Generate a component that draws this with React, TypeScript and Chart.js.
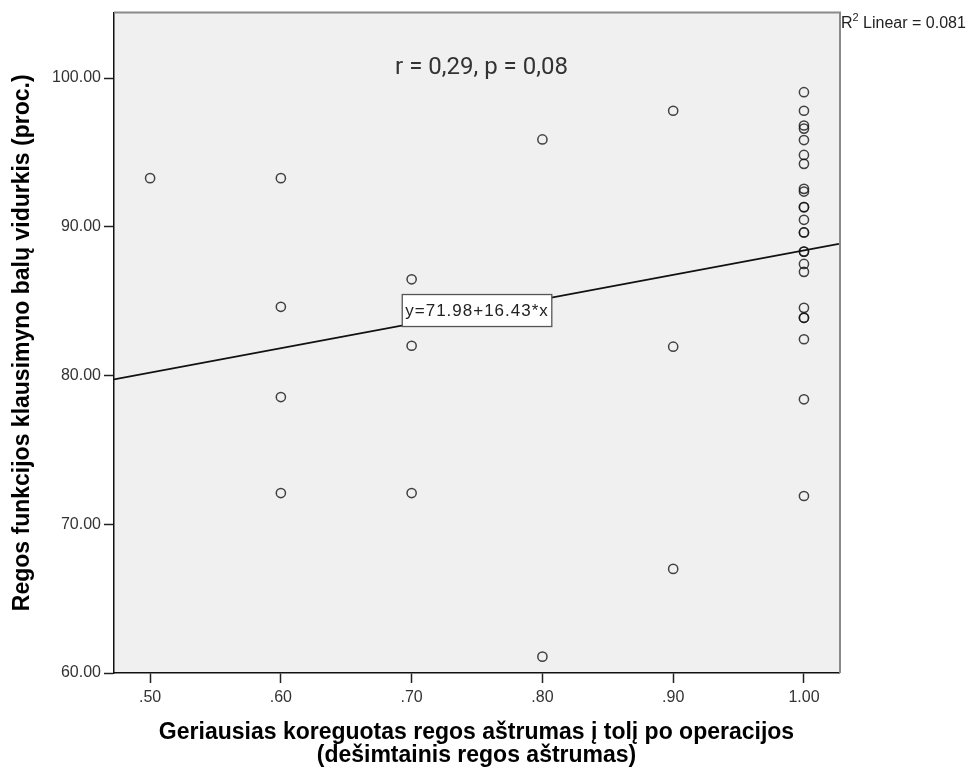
import React, { useEffect, useRef } from "react";
import { Chart, registerables } from "chart.js";

Chart.register(...registerables);

// ---- data ----
const acuityLevels = [0.5, 0.6, 0.7, 0.8, 0.9, 1.0];
const scoresAt050 = [93.27];
const scoresAt060 = [93.27, 84.62, 78.55, 72.1];
const scoresAt070 = [86.47, 82.0, 72.1];
const scoresAt080 = [95.87, 61.1];
const scoresAt090 = [97.8, 81.94, 67.0];
const scoresAt100 = [
  99.05, 97.8, 96.81, 96.6, 95.83, 94.83, 94.23, 92.55, 92.37, 91.32, 91.32,
  90.47, 89.62, 89.62, 88.33, 88.33, 87.5, 86.97, 84.55, 83.88, 83.88, 82.44,
  78.4, 71.9,
];
const scoreGroups = [scoresAt050, scoresAt060, scoresAt070, scoresAt080, scoresAt090, scoresAt100];

const xTicks = [0.5, 0.6, 0.7, 0.8, 0.9, 1.0];
const yTicks = [60, 70, 80, 90, 100];
const xRange = [0.4724, 1.0268];
const yRange = [60, 104.4];

const fitIntercept = 71.98;
const fitSlope = 16.43;
const fitLabel = "y=71.98+16.43*x";
const fitLabelAt = 0.75;
const rSquaredText = " Linear = 0.081";
const corrText = "r = 0,29, p = 0,08";

const yTitle = "Regos funkcijos klausimyno balų vidurkis (proc.)";
const xTitle = [
  "Geriausias koreguotas regos aštrumas į tolį po operacijos",
  "(dešimtainis regos aštrumas)",
];

const FONT = "'Liberation Sans', Arial, sans-serif";

const decorPlugin = {
  id: "decor",
  beforeDraw(chart: any) {
    const { ctx, chartArea } = chart;
    ctx.save();
    ctx.fillStyle = "#f0f0f0";
    ctx.fillRect(chartArea.left, chartArea.top, chartArea.right - chartArea.left, chartArea.bottom - chartArea.top);
    ctx.restore();
  },
  afterDatasetsDraw(chart: any) {
    const { ctx, scales } = chart;
    const xs = scales.x;
    const ys = scales.y;
    ctx.save();
    ctx.font = `17px ${FONT}`;
    (ctx as any).letterSpacing = "1px";
    const tw = ctx.measureText(fitLabel).width;
    const cx = xs.getPixelForValue(fitLabelAt);
    const cy = ys.getPixelForValue(fitIntercept + fitSlope * fitLabelAt);
    const bw = tw + 6;
    const bh = 32;
    ctx.fillStyle = "#ffffff";
    ctx.fillRect(cx - bw / 2, cy - bh / 2 - 1, bw, bh);
    ctx.strokeStyle = "#555";
    ctx.lineWidth = 1.3;
    ctx.strokeRect(cx - bw / 2, cy - bh / 2 - 1, bw, bh);
    ctx.fillStyle = "#222";
    ctx.textAlign = "left";
    ctx.textBaseline = "middle";
    ctx.fillText(fitLabel, cx - bw / 2 + 3, cy);
    (ctx as any).letterSpacing = "0px";
    ctx.restore();
  },
  afterDraw(chart: any) {
    const { ctx, chartArea } = chart;
    ctx.save();
    ctx.strokeStyle = "#8a8a8a";
    ctx.lineWidth = 2;
    ctx.beginPath();
    ctx.moveTo(chartArea.left, chartArea.top);
    ctx.lineTo(chartArea.right + 1, chartArea.top);
    ctx.lineTo(chartArea.right + 1, chartArea.bottom);
    ctx.stroke();
    ctx.fillStyle = "#333";
    ctx.font = `24px Roboto, ${FONT}`;
    ctx.textAlign = "center";
    ctx.textBaseline = "alphabetic";
    ctx.fillText(corrText, 481.5, 73.5);
    ctx.fillStyle = "#222";
    ctx.textAlign = "left";
    ctx.font = `16px ${FONT}`;
    const rx = chartArea.right + 2;
    ctx.fillText("R", rx, 28);
    const rw = ctx.measureText("R").width;
    ctx.font = `11px ${FONT}`;
    ctx.fillText("2", rx + rw, 21);
    const sw = ctx.measureText("2").width;
    ctx.font = `16px ${FONT}`;
    ctx.fillText(rSquaredText, rx + rw + sw, 28);
    ctx.restore();
  },
};

export default function App() {
  const ref = useRef<HTMLCanvasElement>(null);
  useEffect(() => {
    if (!ref.current) return;
    const points: { x: number; y: number }[] = [];
    acuityLevels.forEach((lv, i) => {
      scoreGroups[i].forEach((v) => points.push({ x: lv, y: v }));
    });
    const fitLine = xRange.map((x) => ({ x, y: fitIntercept + fitSlope * x }));
    const chart = new Chart(ref.current, {
      type: "scatter",
      data: {
        datasets: [
          {
            label: "points",
            data: points,
            pointStyle: "circle",
            pointRadius: 4.6,
            pointBorderWidth: 1.5,
            pointBorderColor: "rgba(15,15,15,0.78)",
            pointBackgroundColor: "rgba(0,0,0,0)",
            showLine: false,
          } as any,
          {
            label: "fit",
            data: fitLine,
            showLine: true,
            borderColor: "#111",
            borderWidth: 1.8,
            pointRadius: 0,
            fill: false,
          } as any,
        ],
      },
      options: {
        responsive: false,
        devicePixelRatio: 1,
        animation: false,
        events: [],
        layout: { padding: { left: 0, top: 10, right: 139, bottom: 0 } },
        plugins: { legend: { display: false }, tooltip: { enabled: false } },
        scales: {
          x: {
            type: "linear",
            min: xRange[0],
            max: xRange[1],
            afterBuildTicks: (s: any) => {
              s.ticks = xTicks.map((v) => ({ value: v }));
            },
            afterFit: (s: any) => {
              s.height = 99;
            },
            ticks: {
              callback: (v: any) => Number(v).toFixed(2).replace(/^0/, ""),
              font: { family: FONT, size: 16 },
              color: "#333",
              padding: 5,
              maxRotation: 0,
              autoSkip: false,
            },
            grid: {
              drawOnChartArea: false,
              drawTicks: true,
              tickLength: 10,
              tickWidth: 1.5,
              tickColor: "#222",
            },
            border: { display: true, color: "#111", width: 1.5 },
            title: {
              display: true,
              text: xTitle,
              color: "#000",
              font: { family: FONT, size: 23, weight: "bold", lineHeight: 0.97 },
              padding: { top: 0, bottom: 5.5 },
            },
          },
          y: {
            type: "linear",
            min: yRange[0],
            max: yRange[1],
            afterBuildTicks: (s: any) => {
              s.ticks = yTicks.map((v) => ({ value: v }));
            },
            afterFit: (s: any) => {
              s.width = 114;
            },
            ticks: {
              callback: (v: any) => Number(v).toFixed(2),
              font: { family: FONT, size: 16 },
              color: "#333",
              padding: 3,
              autoSkip: false,
            },
            grid: {
              drawOnChartArea: false,
              drawTicks: true,
              tickLength: 10,
              tickWidth: 1.5,
              tickColor: "#222",
            },
            border: { display: true, color: "#111", width: 1.5 },
            title: {
              display: true,
              text: yTitle,
              color: "#000",
              font: { family: FONT, size: 23, weight: "bold", lineHeight: 1 },
              padding: { top: 11, bottom: 0 },
            },
          },
        },
      } as any,
      plugins: [decorPlugin],
    });
    return () => chart.destroy();
  }, []);
  return (
    <div style={{ position: "absolute", left: 0, top: 0, width: 978, height: 772, background: "#fff" }}>
      <canvas ref={ref} width={978} height={772} style={{ display: "block" }} />
    </div>
  );
}
